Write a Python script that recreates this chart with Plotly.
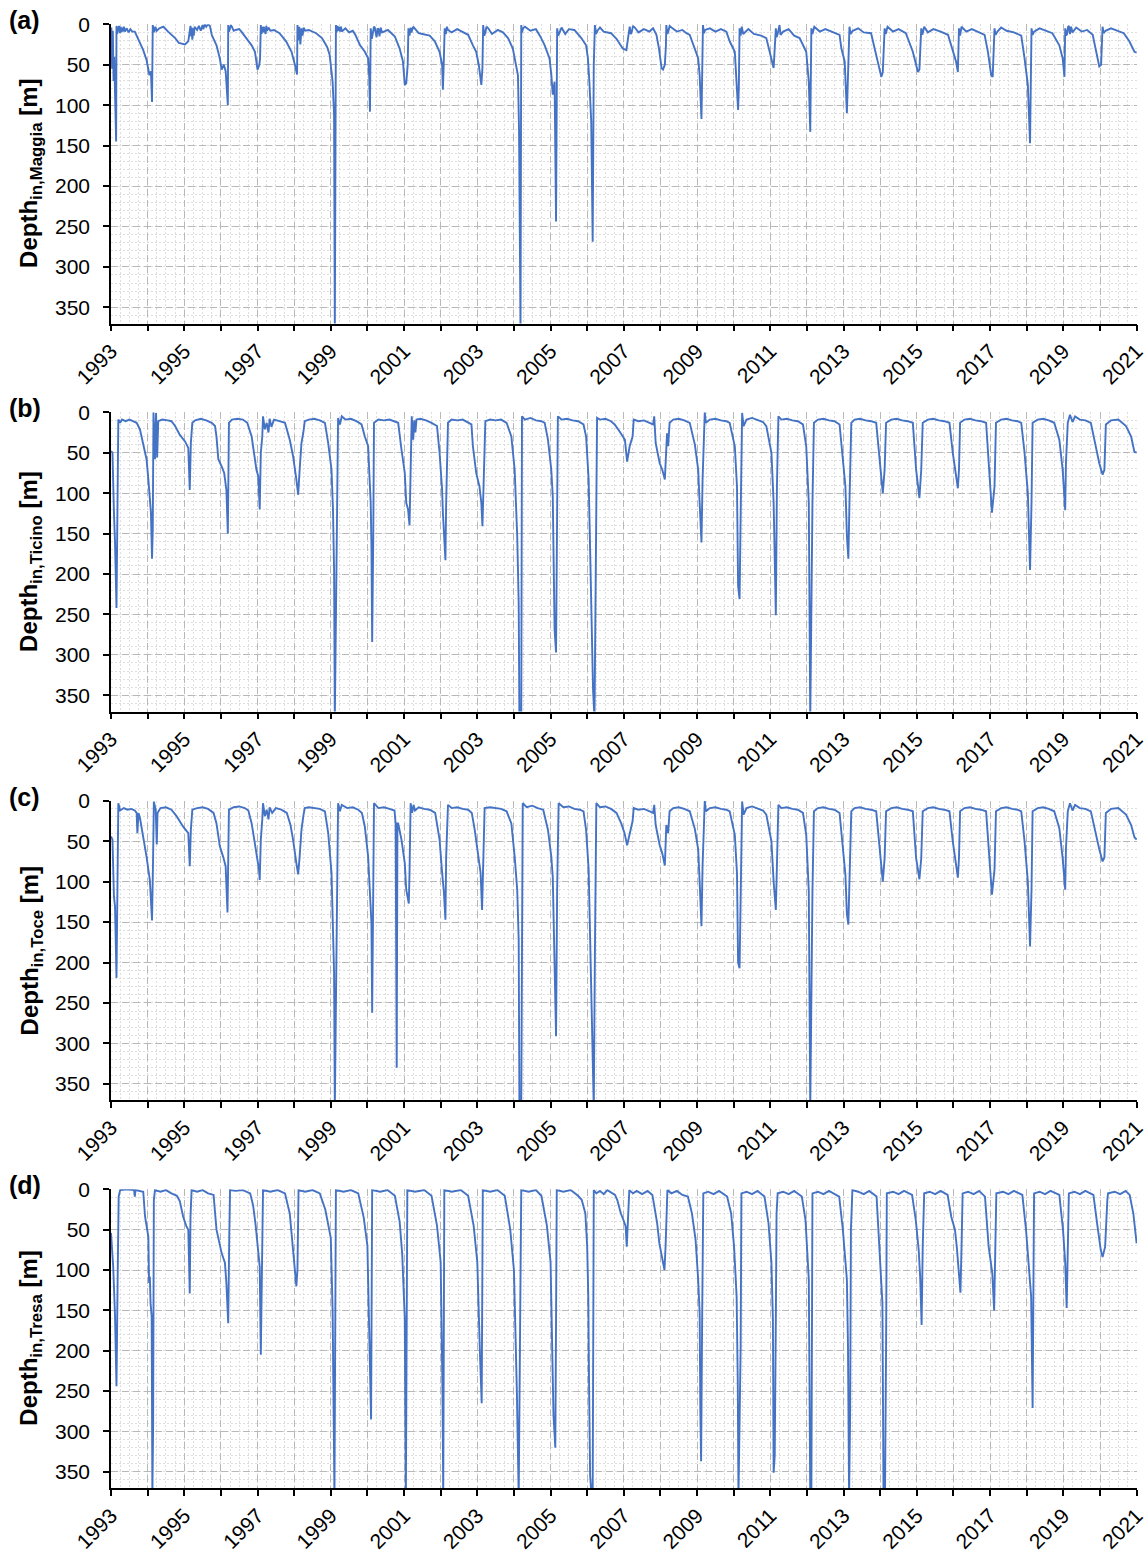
import plotly.graph_objects as go

# ---------------- data: (decimal year, depth in m) ----------------
maggia = [
(1993.00, 30), (1993.01, 4), (1993.03, 55), (1993.05, 8), (1993.07, 70), (1993.09, 40), (1993.11, 85), (1993.14, 145), (1993.15, 2),
(1993.17, 12), (1993.19, 3), (1993.20, 8), (1993.22, 2), (1993.24, 11), (1993.26, 3), (1993.28, 10), (1993.30, 4), (1993.32, 9),
(1993.35, 3), (1993.38, 9), (1993.43, 5), (1993.48, 10), (1993.53, 6), (1993.58, 9), (1993.65, 9),
(1993.75, 19), (1993.82, 25), (1993.88, 32), (1993.97, 44), (1994.02, 55), (1994.05, 63), (1994.09, 58), (1994.12, 96), (1994.14, 1),
(1994.16, 8), (1994.18, 10), (1994.21, 3), (1994.25, 8), (1994.32, 5), (1994.43, 3), (1994.56, 9), (1994.65, 13), (1994.75, 17), (1994.85, 23),
(1995.02, 25), (1995.11, 21), (1995.15, 9), (1995.17, 2), (1995.19, 15), (1995.20, 4), (1995.22, 19), (1995.24, 5), (1995.26, 14),
(1995.28, 3), (1995.35, 7), (1995.40, 2), (1995.45, 8), (1995.50, 1), (1995.52, 6), (1995.56, 0), (1995.60, 3), (1995.65, 0),
(1995.70, 2), (1995.75, 13), (1995.88, 26), (1995.97, 42), (1996.02, 56), (1996.08, 50), (1996.13, 58),
(1996.19, 100), (1996.20, 1), (1996.22, 9), (1996.25, 5), (1996.27, 1), (1996.30, 3), (1996.35, 8), (1996.40, 7), (1996.50, 6), (1996.56, 9),
(1996.70, 17), (1996.84, 26), (1996.93, 34), (1997.00, 56), (1997.05, 50), (1997.07, 42), (1997.09, 1), (1997.11, 12), (1997.13, 3),
(1997.15, 10), (1997.17, 3), (1997.20, 9), (1997.22, 12), (1997.24, 2), (1997.26, 8), (1997.30, 4),
(1997.35, 8), (1997.45, 7), (1997.60, 11), (1997.78, 21), (1997.93, 34), (1998.02, 50), (1998.08, 62), (1998.09, 1), (1998.12, 20),
(1998.14, 3), (1998.17, 25), (1998.20, 5), (1998.23, 14), (1998.26, 4), (1998.30, 8), (1998.40, 7), (1998.60, 11), (1998.76, 17),
(1998.90, 28), (1998.97, 38), (1999.05, 71), (1999.09, 112), (1999.11, 380), (1999.14, 1), (1999.16, 10), (1999.18, 2), (1999.20, 8),
(1999.22, 3), (1999.25, 9), (1999.28, 3), (1999.30, 9), (1999.40, 5), (1999.50, 10),
(1999.60, 8), (1999.67, 13), (1999.80, 26), (1999.93, 34), (2000.02, 42), (2000.05, 66), (2000.07, 108), (2000.09, 5), (2000.12, 18),
(2000.15, 12), (2000.18, 3), (2000.20, 4), (2000.23, 14), (2000.25, 16), (2000.28, 5), (2000.30, 6), (2000.33, 15), (2000.36, 4),
(2000.40, 10), (2000.56, 7), (2000.75, 15), (2000.88, 30), (2000.97, 46), (2001.02, 75),
(2001.06, 73), (2001.10, 50), (2001.12, 5), (2001.15, 14), (2001.18, 4), (2001.20, 10), (2001.25, 3), (2001.30, 6), (2001.40, 11),
(2001.50, 12), (2001.70, 14), (2001.84, 21), (2001.97, 34), (2002.04, 50), (2002.06, 81), (2002.08, 54), (2002.11, 5), (2002.14, 12),
(2002.17, 3), (2002.20, 7), (2002.30, 10), (2002.45, 6), (2002.65, 11), (2002.75, 13),
(2002.88, 26), (2002.97, 34), (2003.04, 50), (2003.11, 75), (2003.14, 54), (2003.16, 1), (2003.19, 14), (2003.22, 10), (2003.25, 3),
(2003.30, 5), (2003.40, 12), (2003.56, 7), (2003.70, 10), (2003.84, 17), (2003.97, 30), (2004.06, 50), (2004.11, 63), (2004.14, 133),
(2004.15, 244), (2004.18, 380), (2004.20, 1), (2004.22, 10), (2004.25, 5), (2004.30, 3), (2004.45, 8), (2004.60, 6), (2004.72, 15),
(2004.84, 26), (2004.97, 42), (2005.02, 62), (2005.06, 87), (2005.11, 71), (2005.15, 244), (2005.18, 5), (2005.21, 14), (2005.25, 10),
(2005.30, 4), (2005.40, 12), (2005.50, 6), (2005.65, 7),
(2005.84, 17), (2005.97, 26), (2006.02, 42), (2006.06, 71), (2006.11, 120), (2006.15, 269), (2006.18, 50), (2006.21, 1), (2006.24, 12),
(2006.28, 8), (2006.35, 4), (2006.45, 9), (2006.65, 11), (2006.80, 18), (2006.97, 30), (2007.07, 32), (2007.12, 13), (2007.16, 3),
(2007.19, 12), (2007.22, 9), (2007.25, 2), (2007.30, 4), (2007.40, 10), (2007.55, 6), (2007.70, 9), (2007.80, 5), (2007.89, 13),
(2007.96, 30), (2008.03, 54), (2008.07, 56),
(2008.12, 50), (2008.15, 26), (2008.16, 1), (2008.19, 12), (2008.22, 8), (2008.25, 2), (2008.30, 4), (2008.45, 9), (2008.60, 7),
(2008.71, 11), (2008.80, 13), (2008.94, 30), (2009.03, 42), (2009.07, 63), (2009.12, 117), (2009.16, 1), (2009.19, 11), (2009.22, 7),
(2009.35, 5), (2009.50, 9), (2009.65, 6), (2009.80, 9), (2009.89, 21), (2010.03, 34), (2010.07, 63), (2010.12, 106), (2010.14, 79),
(2010.16, 5), (2010.19, 14), (2010.22, 3), (2010.26, 12), (2010.30, 10), (2010.40, 6), (2010.55, 12), (2010.75, 14), (2010.89, 17),
(2010.98, 34), (2011.05, 46), (2011.09, 54), (2011.15, 5), (2011.17, 16), (2011.20, 12), (2011.23, 3), (2011.25, 1), (2011.28, 13),
(2011.35, 9), (2011.50, 6), (2011.65, 14), (2011.80, 17), (2011.89, 26), (2011.98, 34), (2012.05, 71), (2012.09, 133),
(2012.12, 5), (2012.15, 12), (2012.20, 3), (2012.35, 9), (2012.50, 6), (2012.70, 10), (2012.89, 13), (2012.94, 30), (2013.03, 46),
(2013.09, 110), (2013.13, 30), (2013.16, 3), (2013.19, 12), (2013.25, 8), (2013.40, 5), (2013.55, 10), (2013.75, 11), (2013.89, 38),
(2014.03, 65), (2014.07, 59), (2014.12, 5), (2014.15, 12), (2014.20, 3), (2014.35, 9), (2014.50, 6), (2014.70, 11), (2014.89, 34),
(2015.03, 59), (2015.07, 56), (2015.12, 5), (2015.15, 13), (2015.20, 3), (2015.30, 10), (2015.45, 6), (2015.65, 9), (2015.85, 13),
(2015.98, 34), (2016.07, 46), (2016.12, 59), (2016.15, 5), (2016.18, 14), (2016.22, 3), (2016.35, 9), (2016.50, 6), (2016.70, 10),
(2016.85, 13), (2016.94, 34), (2017.03, 63), (2017.07, 65), (2017.12, 5), (2017.15, 13), (2017.20, 9), (2017.30, 4), (2017.45, 8),
(2017.65, 10), (2017.85, 14), (2017.94, 42), (2018.03, 75), (2018.09, 147), (2018.13, 5), (2018.16, 13),
(2018.20, 9), (2018.35, 5), (2018.50, 8), (2018.70, 11), (2018.89, 26), (2018.98, 42), (2019.03, 65), (2019.05, 5), (2019.08, 14),
(2019.10, 12), (2019.13, 3), (2019.15, 2), (2019.18, 12), (2019.21, 3), (2019.25, 10), (2019.35, 4), (2019.50, 9), (2019.65, 7),
(2019.80, 13), (2019.89, 34), (2019.98, 52), (2020.03, 50), (2020.05, 13), (2020.07, 3), (2020.10, 11), (2020.15, 8), (2020.30, 5),
(2020.50, 9), (2020.65, 11), (2020.80, 21), (2020.94, 34), (2021.00, 35),
]

ticino = [
(1993.00, 48), (1993.04, 50), (1993.08, 124), (1993.11, 161), (1993.15, 242), (1993.17, 153), (1993.20, 9), (1993.25, 13), (1993.30, 9),
(1993.40, 11), (1993.50, 9), (1993.60, 11), (1993.70, 13), (1993.79, 21), (1993.88, 38), (1993.97, 58), (1994.02, 83), (1994.06, 104),
(1994.09, 124), (1994.12, 181), (1994.14, 145), (1994.16, 0), (1994.20, 58), (1994.23, 1), (1994.26, 56), (1994.29, 11), (1994.40, 9),
(1994.55, 10), (1994.65, 11), (1994.75, 17), (1994.88, 28), (1995.02, 36), (1995.11, 44), (1995.15, 96), (1995.18, 38), (1995.22, 13),
(1995.30, 10), (1995.45, 8), (1995.60, 10), (1995.75, 13), (1995.84, 17), (1995.88, 30), (1995.93, 58), (1996.02, 67), (1996.09, 75),
(1996.15, 96), (1996.19, 150), (1996.22, 13), (1996.30, 9), (1996.45, 8), (1996.60, 9), (1996.72, 13), (1996.84, 30), (1996.97, 71),
(1997.02, 79), (1997.06, 120), (1997.09, 50), (1997.13, 30), (1997.15, 5), (1997.20, 21), (1997.25, 13), (1997.30, 25), (1997.33, 8),
(1997.38, 18), (1997.45, 9), (1997.60, 11), (1997.75, 13), (1997.88, 34), (1997.97, 54), (1998.06, 83), (1998.11, 102), (1998.15, 71),
(1998.20, 38), (1998.25, 25), (1998.29, 11), (1998.40, 9), (1998.55, 8), (1998.70, 10), (1998.84, 13), (1998.93, 38), (1999.02, 71),
(1999.06, 120), (1999.09, 195), (1999.11, 380), (1999.14, 240), (1999.17, 153), (1999.20, 7), (1999.25, 15), (1999.30, 5), (1999.40, 9),
(1999.55, 8), (1999.70, 11), (1999.84, 15), (1999.93, 30), (2000.02, 42), (2000.06, 83), (2000.09, 112), (2000.11, 166), (2000.13, 284),
(2000.16, 153), (2000.18, 13), (2000.30, 9), (2000.45, 10), (2000.60, 9), (2000.75, 11), (2000.84, 13), (2000.93, 46), (2001.02, 75),
(2001.06, 112), (2001.11, 120), (2001.15, 140), (2001.18, 71), (2001.21, 5), (2001.25, 34), (2001.28, 10), (2001.31, 25), (2001.34, 9),
(2001.45, 8), (2001.60, 10), (2001.75, 13), (2001.90, 17), (2001.97, 50), (2002.04, 96), (2002.06, 124), (2002.13, 183), (2002.15, 112),
(2002.20, 13), (2002.30, 9), (2002.45, 10), (2002.60, 9), (2002.75, 13), (2002.84, 15), (2002.88, 42), (2002.97, 75), (2003.06, 92),
(2003.11, 112), (2003.14, 141), (2003.18, 71), (2003.22, 11), (2003.35, 9), (2003.50, 10), (2003.65, 9), (2003.80, 13), (2003.93, 30),
(2004.02, 71), (2004.09, 153), (2004.13, 236), (2004.15, 380), (2004.20, 380), (2004.22, 5), (2004.30, 9), (2004.45, 7), (2004.60, 10),
(2004.75, 11), (2004.84, 13), (2004.93, 34), (2005.02, 71), (2005.06, 104), (2005.11, 269), (2005.15, 297), (2005.18, 112), (2005.20, 5),
(2005.30, 9), (2005.45, 8), (2005.60, 10), (2005.75, 11), (2005.90, 15), (2005.97, 30), (2006.04, 83), (2006.09, 195), (2006.13, 310),
(2006.16, 343), (2006.20, 380), (2006.24, 195), (2006.27, 7), (2006.35, 9), (2006.50, 8), (2006.65, 11), (2006.75, 15), (2006.89, 24),
(2007.03, 34), (2007.09, 61), (2007.16, 42), (2007.24, 30), (2007.27, 9), (2007.40, 11), (2007.55, 10), (2007.70, 13), (2007.80, 15),
(2007.83, 5), (2007.87, 38), (2007.98, 63), (2008.05, 71), (2008.12, 83), (2008.16, 34), (2008.18, 26), (2008.21, 42), (2008.25, 13),
(2008.35, 9), (2008.50, 8), (2008.65, 10), (2008.80, 13), (2008.94, 40), (2009.03, 71), (2009.07, 112), (2009.12, 161), (2009.15, 83),
(2009.18, 30), (2009.21, 0), (2009.24, 13), (2009.35, 9), (2009.50, 8), (2009.65, 10), (2009.80, 11), (2009.89, 13), (2010.03, 42),
(2010.09, 92), (2010.12, 215), (2010.16, 231), (2010.19, 128), (2010.23, 1), (2010.27, 17), (2010.35, 9), (2010.50, 7), (2010.65, 10),
(2010.80, 12), (2010.89, 17), (2011.03, 50), (2011.09, 112), (2011.15, 251), (2011.18, 92), (2011.22, 5), (2011.30, 9), (2011.45, 8),
(2011.60, 10), (2011.75, 11), (2011.89, 15), (2011.98, 42), (2012.05, 112), (2012.09, 380), (2012.15, 112), (2012.19, 13), (2012.30, 9),
(2012.45, 8), (2012.60, 10), (2012.75, 11), (2012.89, 15), (2012.98, 54), (2013.05, 92), (2013.09, 153), (2013.13, 181), (2013.16, 112),
(2013.21, 13), (2013.30, 9), (2013.45, 8), (2013.60, 10), (2013.75, 11), (2013.89, 13), (2013.94, 38), (2014.03, 87), (2014.07, 100),
(2014.12, 71), (2014.16, 13), (2014.30, 9), (2014.45, 8), (2014.60, 10), (2014.75, 11), (2014.89, 13), (2014.98, 71), (2015.07, 106),
(2015.12, 71), (2015.16, 13), (2015.30, 9), (2015.45, 8), (2015.60, 10), (2015.75, 11), (2015.89, 13), (2015.98, 50), (2016.07, 75),
(2016.12, 94), (2016.15, 71), (2016.18, 13), (2016.30, 9), (2016.45, 8), (2016.60, 10), (2016.75, 11), (2016.89, 13), (2016.98, 71),
(2017.05, 124), (2017.12, 92), (2017.16, 13), (2017.30, 9), (2017.45, 8), (2017.60, 10), (2017.75, 11), (2017.85, 13), (2017.94, 50),
(2018.03, 100), (2018.09, 195), (2018.13, 112), (2018.16, 13), (2018.30, 9), (2018.45, 8), (2018.60, 10), (2018.75, 13), (2018.89, 34),
(2018.98, 71), (2019.05, 121), (2019.07, 63), (2019.12, 13), (2019.18, 3), (2019.25, 12), (2019.32, 5), (2019.45, 9), (2019.60, 10),
(2019.75, 13), (2019.89, 42), (2019.98, 63), (2020.07, 77), (2020.12, 71), (2020.16, 15), (2020.30, 10), (2020.50, 9), (2020.71, 17),
(2020.85, 30), (2020.94, 49), (2021.00, 50),
]

toce = [
(1993.00, 44), (1993.04, 48), (1993.08, 118), (1993.11, 131), (1993.15, 219), (1993.17, 110), (1993.20, 3), (1993.25, 12), (1993.35, 9),
(1993.45, 11), (1993.55, 10), (1993.65, 12), (1993.70, 15), (1993.72, 40), (1993.75, 15), (1993.79, 21), (1993.88, 44), (1993.97, 69),
(1994.06, 98), (1994.12, 148), (1994.15, 69), (1994.17, 1), (1994.22, 11), (1994.25, 54), (1994.27, 15), (1994.35, 9), (1994.50, 8),
(1994.65, 11), (1994.79, 19), (1994.97, 32), (1995.11, 40), (1995.15, 81), (1995.18, 36), (1995.22, 11), (1995.35, 9), (1995.50, 8),
(1995.65, 10), (1995.80, 15), (1995.88, 28), (1995.97, 56), (1996.06, 69), (1996.13, 81), (1996.18, 138), (1996.22, 11), (1996.35, 8),
(1996.50, 7), (1996.65, 9), (1996.75, 12), (1996.84, 28), (1996.97, 65), (1997.04, 85), (1997.06, 98), (1997.09, 48), (1997.13, 23),
(1997.15, 3), (1997.20, 19), (1997.25, 11), (1997.30, 23), (1997.33, 8), (1997.40, 15), (1997.50, 9), (1997.65, 11), (1997.80, 15),
(1997.90, 30), (1997.97, 48), (1998.06, 77), (1998.11, 91), (1998.15, 69), (1998.20, 36), (1998.25, 19), (1998.29, 9), (1998.40, 8),
(1998.55, 9), (1998.70, 10), (1998.84, 13), (1998.93, 40), (1999.02, 89), (1999.06, 151), (1999.09, 213), (1999.11, 380), (1999.15, 172),
(1999.20, 3), (1999.25, 13), (1999.30, 5), (1999.45, 9), (1999.60, 8), (1999.75, 11), (1999.85, 15), (1999.93, 32), (2000.02, 69),
(2000.06, 106), (2000.11, 151), (2000.13, 262), (2000.16, 151), (2000.18, 3), (2000.30, 9), (2000.45, 8), (2000.60, 10), (2000.74, 12),
(2000.77, 28), (2000.80, 330), (2000.82, 28), (2000.84, 28), (2000.93, 48), (2001.02, 77), (2001.06, 110), (2001.13, 127), (2001.15, 89),
(2001.18, 3), (2001.22, 15), (2001.26, 5), (2001.30, 12), (2001.40, 8), (2001.55, 10), (2001.70, 11), (2001.85, 15), (2001.97, 48),
(2002.04, 89), (2002.09, 114), (2002.13, 147), (2002.15, 69), (2002.20, 5), (2002.30, 9), (2002.45, 8), (2002.60, 10), (2002.75, 11),
(2002.85, 15), (2002.93, 36), (2003.02, 69), (2003.09, 89), (2003.13, 135), (2003.16, 69), (2003.20, 9), (2003.35, 8), (2003.50, 9),
(2003.65, 10), (2003.80, 13), (2003.93, 28), (2004.02, 69), (2004.09, 110), (2004.13, 172), (2004.15, 380), (2004.20, 380), (2004.24, 3),
(2004.35, 8), (2004.50, 6), (2004.65, 9), (2004.80, 11), (2004.93, 36), (2005.02, 69), (2005.06, 94), (2005.11, 230), (2005.15, 291),
(2005.18, 110), (2005.22, 3), (2005.35, 8), (2005.50, 7), (2005.65, 10), (2005.80, 11), (2005.90, 13), (2005.97, 36), (2006.04, 85),
(2006.09, 192), (2006.13, 316), (2006.18, 380), (2006.21, 192), (2006.25, 3), (2006.35, 8), (2006.50, 7), (2006.65, 10), (2006.80, 15),
(2006.93, 28), (2007.02, 40), (2007.09, 55), (2007.16, 40), (2007.24, 25), (2007.27, 9), (2007.40, 11), (2007.55, 10), (2007.70, 13),
(2007.80, 15), (2007.83, 5), (2007.87, 30), (2007.98, 55), (2008.05, 65), (2008.12, 80), (2008.16, 30), (2008.21, 40), (2008.25, 13),
(2008.35, 9), (2008.50, 8), (2008.65, 10), (2008.80, 13), (2008.94, 35), (2009.03, 60), (2009.07, 100), (2009.12, 155), (2009.15, 80),
(2009.18, 30), (2009.21, 0), (2009.24, 13), (2009.35, 9), (2009.50, 8), (2009.65, 10), (2009.80, 11), (2009.89, 13), (2010.03, 42),
(2010.09, 90), (2010.12, 200), (2010.16, 207), (2010.19, 120), (2010.23, 1), (2010.27, 17), (2010.35, 9), (2010.50, 7), (2010.65, 10),
(2010.80, 12), (2010.89, 17), (2011.03, 50), (2011.09, 100), (2011.15, 135), (2011.18, 80), (2011.22, 5), (2011.30, 9), (2011.45, 8),
(2011.60, 10), (2011.75, 11), (2011.89, 15), (2011.98, 42), (2012.05, 112), (2012.09, 380), (2012.15, 112), (2012.19, 13), (2012.30, 9),
(2012.45, 8), (2012.60, 10), (2012.75, 11), (2012.89, 15), (2012.98, 54), (2013.05, 92), (2013.09, 140), (2013.13, 153), (2013.16, 100),
(2013.21, 13), (2013.30, 9), (2013.45, 8), (2013.60, 10), (2013.75, 11), (2013.89, 13), (2013.94, 38), (2014.03, 85), (2014.07, 100),
(2014.12, 71), (2014.16, 13), (2014.30, 9), (2014.45, 8), (2014.60, 10), (2014.75, 11), (2014.89, 13), (2014.98, 71), (2015.07, 97),
(2015.12, 71), (2015.16, 13), (2015.30, 9), (2015.45, 8), (2015.60, 10), (2015.75, 11), (2015.89, 13), (2015.98, 50), (2016.07, 80),
(2016.12, 95), (2016.15, 71), (2016.18, 13), (2016.30, 9), (2016.45, 8), (2016.60, 10), (2016.75, 11), (2016.89, 13), (2016.98, 71),
(2017.05, 116), (2017.12, 85), (2017.16, 13), (2017.30, 9), (2017.45, 8), (2017.60, 10), (2017.75, 11), (2017.85, 13), (2017.94, 50),
(2018.03, 100), (2018.09, 180), (2018.13, 110), (2018.16, 13), (2018.30, 9), (2018.45, 8), (2018.60, 10), (2018.75, 13), (2018.89, 34),
(2018.98, 71), (2019.05, 110), (2019.07, 60), (2019.12, 13), (2019.18, 3), (2019.25, 12), (2019.32, 5), (2019.45, 9), (2019.60, 10),
(2019.75, 13), (2019.89, 42), (2019.98, 60), (2020.07, 75), (2020.12, 70), (2020.16, 15), (2020.30, 10), (2020.50, 9), (2020.71, 17),
(2020.85, 30), (2020.94, 45), (2021.00, 48),
]

tresa = [
(1993.00, 54), (1993.06, 96), (1993.11, 157), (1993.15, 244), (1993.18, 116), (1993.21, 9), (1993.25, 1), (1993.45, 0), (1993.63, 1),
(1993.65, 9), (1993.67, 1), (1993.88, 3), (1993.93, 34), (1993.97, 48), (1994.02, 59), (1994.04, 116), (1994.06, 108), (1994.08, 141),
(1994.11, 157), (1994.13, 380), (1994.15, 293), (1994.17, 13), (1994.20, 1), (1994.35, 3), (1994.50, 1), (1994.65, 5), (1994.80, 8),
(1994.88, 15), (1994.97, 34), (1995.06, 46), (1995.11, 50), (1995.15, 129), (1995.17, 34), (1995.20, 1), (1995.35, 3), (1995.50, 1),
(1995.65, 5), (1995.80, 7), (1995.88, 50), (1996.02, 79), (1996.11, 91), (1996.15, 116), (1996.20, 166), (1996.23, 54), (1996.25, 1),
(1996.40, 2), (1996.60, 1), (1996.80, 5), (1996.88, 20), (1996.95, 45), (1997.02, 83), (1997.06, 96), (1997.09, 205), (1997.12, 75),
(1997.15, 1), (1997.35, 3), (1997.55, 1), (1997.75, 5), (1997.88, 30), (1997.97, 75), (1998.06, 120), (1998.09, 100), (1998.12, 1),
(1998.30, 3), (1998.50, 1), (1998.70, 5), (1998.85, 25), (1999.00, 60), (1999.05, 150), (1999.10, 380), (1999.14, 1), (1999.35, 3),
(1999.55, 1), (1999.75, 5), (1999.90, 35), (2000.00, 70), (2000.05, 200), (2000.10, 285), (2000.13, 1), (2000.35, 3), (2000.55, 1),
(2000.75, 8), (2000.88, 40), (2000.95, 80), (2001.02, 160), (2001.05, 380), (2001.09, 1), (2001.30, 3), (2001.55, 1), (2001.75, 8),
(2001.90, 45), (2002.00, 90), (2002.05, 250), (2002.07, 380), (2002.10, 1), (2002.30, 3), (2002.55, 1), (2002.75, 8), (2002.90, 45),
(2003.00, 90), (2003.07, 200), (2003.12, 265), (2003.15, 1), (2003.35, 3), (2003.55, 1), (2003.75, 8), (2003.90, 50), (2004.00, 100),
(2004.08, 250), (2004.13, 380), (2004.20, 1), (2004.40, 3), (2004.60, 1), (2004.75, 8), (2004.90, 45), (2005.00, 90), (2005.08, 280),
(2005.13, 320), (2005.17, 1), (2005.35, 3), (2005.55, 1), (2005.75, 8), (2005.85, 13), (2005.95, 30), (2006.00, 71), (2006.03, 133),
(2006.05, 236), (2006.08, 355), (2006.12, 380), (2006.15, 380), (2006.18, 1), (2006.25, 5), (2006.35, 2), (2006.45, 6), (2006.55, 1),
(2006.65, 4), (2006.76, 7), (2006.82, 13), (2006.92, 30), (2006.99, 38), (2007.05, 46), (2007.08, 71), (2007.11, 34), (2007.15, 1),
(2007.25, 5), (2007.35, 2), (2007.50, 6), (2007.65, 2), (2007.78, 7), (2007.89, 34), (2007.91, 42), (2007.97, 67), (2008.04, 83),
(2008.11, 100), (2008.14, 71), (2008.17, 30), (2008.19, 1), (2008.30, 5), (2008.45, 2), (2008.60, 7), (2008.75, 9), (2008.86, 30),
(2008.96, 63), (2009.03, 112), (2009.07, 153), (2009.09, 277), (2009.11, 337), (2009.14, 153), (2009.17, 5), (2009.30, 3), (2009.45, 6),
(2009.60, 2), (2009.82, 9), (2009.93, 30), (2010.01, 71), (2010.08, 133), (2010.11, 236), (2010.13, 380), (2010.16, 310), (2010.19, 195),
(2010.21, 5), (2010.35, 3), (2010.50, 6), (2010.65, 2), (2010.84, 9), (2010.95, 42), (2011.03, 91), (2011.07, 161), (2011.09, 351),
(2011.12, 330), (2011.15, 161), (2011.17, 30), (2011.20, 5), (2011.35, 3), (2011.50, 6), (2011.65, 2), (2011.86, 9), (2011.96, 38),
(2012.05, 112), (2012.09, 380), (2012.12, 380), (2012.15, 5), (2012.30, 3), (2012.45, 6), (2012.60, 2), (2012.88, 9), (2012.98, 50),
(2013.09, 112), (2013.12, 195), (2013.15, 380), (2013.18, 272), (2013.20, 50), (2013.24, 1), (2013.40, 3), (2013.55, 6), (2013.70, 2),
(2013.90, 9), (2013.98, 71), (2014.06, 141), (2014.09, 380), (2014.13, 380), (2014.16, 195), (2014.18, 5), (2014.35, 3), (2014.50, 6),
(2014.65, 2), (2014.87, 7), (2014.97, 38), (2015.05, 75), (2015.09, 108), (2015.13, 168), (2015.16, 71), (2015.20, 5), (2015.35, 3),
(2015.50, 6), (2015.65, 2), (2015.84, 7), (2015.94, 34), (2016.04, 50), (2016.09, 71), (2016.14, 96), (2016.19, 128), (2016.22, 71),
(2016.25, 5), (2016.40, 3), (2016.55, 6), (2016.70, 2), (2016.86, 9), (2016.96, 71), (2017.06, 104), (2017.11, 150), (2017.14, 71),
(2017.17, 5), (2017.35, 3), (2017.50, 6), (2017.65, 2), (2017.88, 7), (2017.98, 50), (2018.06, 100), (2018.12, 133), (2018.16, 271),
(2018.18, 145), (2018.20, 5), (2018.35, 3), (2018.50, 6), (2018.65, 2), (2018.89, 7), (2018.99, 50), (2019.05, 91), (2019.09, 147),
(2019.12, 71), (2019.15, 5), (2019.30, 3), (2019.45, 6), (2019.60, 2), (2019.82, 7), (2019.92, 42), (2020.02, 75), (2020.07, 84),
(2020.14, 71), (2020.20, 13), (2020.22, 5), (2020.40, 3), (2020.55, 6), (2020.70, 2), (2020.81, 7), (2020.91, 30), (2021.00, 67),
]

panel_letters = ["(a)", "(b)", "(c)", "(d)"]
station_names = ["Maggia", "Ticino", "Toce", "Tresa"]
series = [maggia, ticino, toce, tresa]
year_ticks = list(range(1993, 2022))          # tick marks / dashed grid every year
year_labels = list(range(1993, 2022, 2))      # labelled every second year
depth_ticks = [0, 50, 100, 150, 200, 250, 300, 350]

# ---------------- layout ----------------
W, H = 1146, 1553
ML, MR, MT, MB = 111, 9, 24, 65
plot_h = H - MT - MB
panel_tops_px = [24.3, 412.3, 800.8, 1189.3]
panel_h_px = 299.2
X_RANGE = [1993, 2021.01]

FONT = "Liberation Sans, Arial, sans-serif"
BLUE = "#4472C4"
GRID = "#b8b8b8"
MINOR = "#dedede"

fig = go.Figure()
annotations = []
for i, (pts, name, letter) in enumerate(zip(series, station_names, panel_letters)):
    n = "" if i == 0 else str(i + 1)
    lab = str(i + 5)
    fig.add_trace(go.Scatter(
        x=[p[0] for p in pts], y=[p[1] for p in pts],
        mode="lines", line=dict(color=BLUE, width=1.9),
        xaxis="x" + n, yaxis="y" + n, showlegend=False, hoverinfo="x+y"))
    # invisible helper trace so the label-only overlay axis is drawn
    fig.add_trace(go.Scatter(x=[None], y=[None], xaxis="x" + lab, yaxis="y" + n,
                             showlegend=False, hoverinfo="skip"))
    top = min(1.0, 1 - (panel_tops_px[i] - MT) / plot_h)
    bot = max(0.0, 1 - (panel_tops_px[i] + panel_h_px - MT) / plot_h)
    fig.layout["xaxis" + n] = dict(
        domain=[0, 1], anchor="y" + n, range=X_RANGE,
        tickvals=year_ticks, showticklabels=False,
        showline=True, linecolor="black", linewidth=1.5,
        ticks="outside", ticklen=6, tickwidth=1.5, tickcolor="black",
        showgrid=True, gridcolor=GRID, gridwidth=1, griddash="7px,4px",
        minor=dict(dtick=0.25, tick0=1993, showgrid=True, gridcolor=MINOR,
                   gridwidth=1, griddash="2px,2px", ticks=""),
        zeroline=False, fixedrange=True)
    fig.layout["xaxis" + lab] = dict(
        overlaying="x" + n, anchor="y" + n, side="bottom", range=X_RANGE,
        tickvals=year_labels, tickangle=-45, ticklabeloverflow="allow",
        tickfont=dict(family=FONT, size=21, color="black"),
        showline=False, showgrid=False, zeroline=False,
        ticks="outside", ticklen=6, tickcolor="rgba(0,0,0,0)", fixedrange=True)
    fig.layout["yaxis" + n] = dict(
        domain=[bot, top], anchor="x" + n, range=[370, 0],
        tickvals=depth_ticks, tickfont=dict(family=FONT, size=21, color="black"),
        ticklabelstandoff=9,
        showline=True, linecolor="black", linewidth=1.5,
        ticks="outside", ticklen=6, tickwidth=1.5, tickcolor="black",
        showgrid=True, gridcolor=GRID, gridwidth=1, griddash="7px,4px",
        minor=dict(dtick=10, tick0=0, showgrid=True, gridcolor=MINOR,
                   gridwidth=1, griddash="2px,2px", ticks=""),
        zeroline=False, fixedrange=True)
    annotations.append(dict(
        xref="paper", yref="paper", x=(31 - ML) / (W - ML - MR), y=(top + bot) / 2,
        xanchor="center", yanchor="middle", textangle=-90, showarrow=False,
        text="<b>Depth<sub>in," + name + "</sub> [m]</b>",
        font=dict(family=FONT, size=24, color="black")))
    annotations.append(dict(
        xref="paper", yref="paper", x=(7 - ML) / (W - ML - MR),
        y=1 - (panel_tops_px[i] - 4 - MT) / plot_h,
        xanchor="left", yanchor="middle", showarrow=False, text="<b>" + letter + "</b>",
        font=dict(family=FONT, size=25, color="black")))

fig.update_layout(
    width=W, height=H, margin=dict(l=ML, r=MR, t=MT, b=MB, autoexpand=False),
    paper_bgcolor="white", plot_bgcolor="white", annotations=annotations,
    font=dict(family=FONT, color="black"))

fig.write_html("out.html")
